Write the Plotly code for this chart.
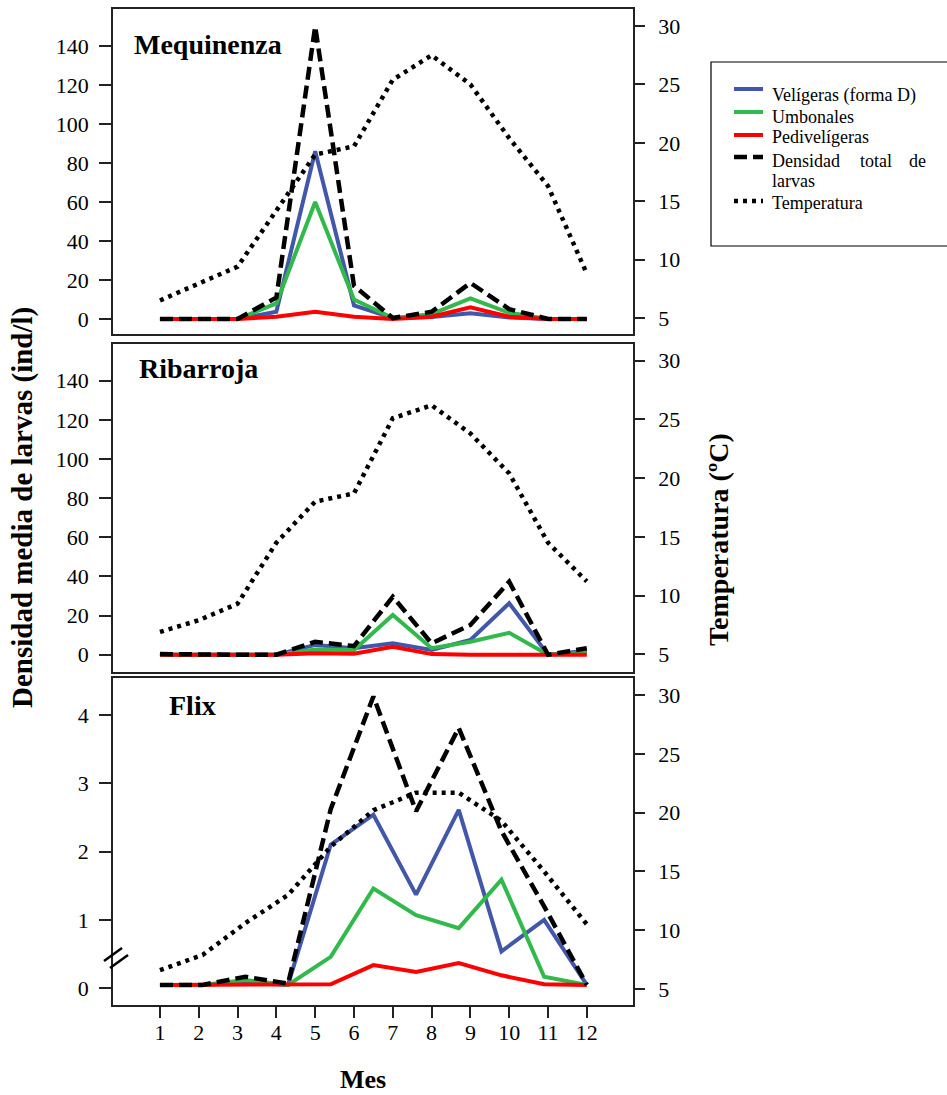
import plotly.graph_objects as go

# ---------------- data ----------------
months = [1, 2, 3, 4, 5, 6, 7, 8, 9, 10, 11, 12]
month_labels = ["1", "2", "3", "4", "5", "6", "7", "8", "9", "10", "11", "12"]

# Mequinenza
meq_temp = [6.5, 8.0, 9.4, 14.2, 19.0, 19.7, 25.4, 27.5, 25.0, 20.4, 16.3, 8.8]
meq_veli = [0, 0, 0, 3.7, 86, 7, 0.5, 1, 3, 0.8, 0, 0]
meq_umbo = [0, 0, 0, 8, 60, 10, 0.5, 2.5, 10.6, 3.2, 0, 0]
meq_pedi = [0, 0, 0, 1.2, 3.7, 1.2, 0, 1.2, 6, 1.2, 0, 0]
meq_total = [0, 0, 0, 11, 150, 17, 0.5, 3.7, 18.5, 5.1, 0, 0]

# Ribarroja
rib_temp = [6.9, 7.9, 9.3, 14.5, 18.0, 18.7, 25.1, 26.2, 23.8, 20.4, 14.5, 11.2]
rib_veli = [0, 0, 0, 0, 5, 3.3, 5.8, 2.4, 7.5, 26.3, 0, 2]
rib_umbo = [0, 0, 0, 0, 2.7, 2.4, 20.3, 3.3, 6.6, 11.2, 0, 1]
rib_pedi = [0, 0, 0, 0, 0.8, 0.5, 4.1, 0.3, 0, 0, 0, 0]
rib_total = [0.3, 0, 0, 0, 6.6, 4.4, 29.6, 5.8, 15.2, 37.3, 0, 3.3]

# Flix (11 sampling dates spread over the year)
flix_x = [1.0, 2.1, 3.2, 4.3, 5.4, 6.5, 7.6, 8.7, 9.8, 10.9, 12.0]
flix_temp = [6.6, 7.9, 10.6, 13.0, 17.1, 20.2, 21.7, 21.7, 19.3, 15.0, 10.5]
flix_veli = [0.05, 0.05, 0.08, 0.05, 2.1, 2.54, 1.37, 2.61, 0.54, 1.0, 0.05]
flix_umbo = [0.05, 0.05, 0.12, 0.05, 0.46, 1.46, 1.07, 0.88, 1.59, 0.17, 0.05]
flix_pedi = [0.05, 0.05, 0.06, 0.05, 0.06, 0.34, 0.24, 0.37, 0.19, 0.06, 0.05]
flix_total = [0.05, 0.05, 0.17, 0.07, 2.62, 4.27, 2.59, 3.81, 2.3, 1.2, 0.05]

panel_names = ["Mequinenza", "Ribarroja", "Flix"]
series_names = ["Velígeras (forma D)", "Umbonales", "Pedivelígeras",
                "Densidad total de larvas", "Temperatura"]
dens_ticks_big = [0, 20, 40, 60, 80, 100, 120, 140]
dens_ticks_small = [0, 1, 2, 3, 4]
temp_ticks = [5, 10, 15, 20, 25, 30]

# ---------------- styling / layout ----------------
W, H = 947, 1095
FONT = "Liberation Serif, Times New Roman, serif"
AX = "#222222"

def fx(p):
    return p / W

def fy(p):
    return 1 - p / H

x_dom = [fx(113), fx(633)]
y_doms = [[fy(334), fy(9)], [fy(672), fy(344)], [fy(1005), fy(678)]]
x_range = [-0.21, 13.19]
left_ranges = [[-7.69, 158.97], [-8.84, 158.75], [-0.244, 4.54]]
right_ranges = [[3.63, 31.46], [3.49, 31.42], [3.64, 31.45]]

styles = [
    dict(color="#4257A9", width=4),
    dict(color="#31B94B", width=4),
    dict(color="#FE0000", width=4),
    dict(color="black", width=4.5, dash="13px,6px"),
    dict(color="black", width=4.5, dash="4px,5px"),
]

panels = [
    (months, meq_veli, meq_umbo, meq_pedi, meq_total, months, meq_temp),
    (months, rib_veli, rib_umbo, rib_pedi, rib_total, months, rib_temp),
    (flix_x, flix_veli, flix_umbo, flix_pedi, flix_total, flix_x, flix_temp),
]

fig = go.Figure()
for i, (xd, v, u, p, t, xt, temp) in enumerate(panels):
    xa = "x" if i == 0 else f"x{i+1}"
    yl = "y" if i == 0 else f"y{2*i+1}"
    yr = f"y{2*i+2}"
    for k, ys in enumerate([v, u, p, t]):
        fig.add_trace(go.Scatter(x=xd, y=ys, mode="lines", line=styles[k],
                                 name=series_names[k], showlegend=False,
                                 xaxis=xa, yaxis=yl, hoverinfo="skip"))
    fig.add_trace(go.Scatter(x=xt, y=temp, mode="lines", line=styles[4],
                             name=series_names[4], showlegend=False,
                             xaxis=xa, yaxis=yr, hoverinfo="skip"))

layout = dict(
    width=W, height=H, margin=dict(l=0, r=0, t=0, b=0),
    paper_bgcolor="white", plot_bgcolor="white",
    font=dict(family=FONT, color="black"),
    showlegend=False,
)

for i in range(3):
    xa = "xaxis" if i == 0 else f"xaxis{i+1}"
    yl = "yaxis" if i == 0 else f"yaxis{2*i+1}"
    yr = f"yaxis{2*i+2}"
    yl_id = "y" if i == 0 else f"y{2*i+1}"
    x_id = "x" if i == 0 else f"x{i+1}"
    bottom = (i == 2)
    layout[xa] = dict(
        domain=x_dom, anchor=yl_id, range=x_range,
        tickvals=months, ticktext=month_labels,
        showticklabels=bottom, ticks="outside" if bottom else "",
        ticklen=11, tickwidth=2, tickcolor=AX,
        tickfont=dict(family=FONT, size=22, color="black"),
        ticklabelstandoff=-4,
        showline=True, mirror=True, linecolor=AX, linewidth=1.5,
        showgrid=False, zeroline=False,
    )
    layout[yl] = dict(
        domain=y_doms[i], anchor=x_id, range=left_ranges[i],
        tickvals=dens_ticks_small if bottom else dens_ticks_big,
        ticks="outside", ticklen=12, tickwidth=2, tickcolor=AX,
        tickfont=dict(family=FONT, size=22, color="black"),
        ticklabelstandoff=6,
        showline=True, linecolor=AX, linewidth=1.5,
        showgrid=False, zeroline=False,
    )
    layout[yr] = dict(
        domain=y_doms[i], anchor=x_id, overlaying=yl_id, side="right",
        range=right_ranges[i], tickvals=temp_ticks,
        ticks="outside", ticklen=10, tickwidth=2, tickcolor=AX,
        tickfont=dict(family=FONT, size=22, color="black"),
        ticklabelstandoff=9,
        showline=True, linecolor=AX, linewidth=1.5,
        showgrid=False, zeroline=False,
    )

fig.update_layout(**layout)

# panel titles
title_pos = [(132, 45), (137, 368), (167, 705)]
for name, (px, py) in zip(panel_names, title_pos):
    fig.add_annotation(text=f"<b>{name}</b>", x=fx(px), y=fy(py), xref="paper", yref="paper",
                       xanchor="left", yanchor="middle", showarrow=False,
                       font=dict(family=FONT, size=28, color="black"))

# axis titles
fig.add_annotation(text="<b>Densidad media de larvas (ind/l)</b>", x=fx(22), y=fy(508),
                   xref="paper", yref="paper", textangle=-90, showarrow=False,
                   xanchor="center", yanchor="middle",
                   font=dict(family=FONT, size=29, color="black"))
fig.add_annotation(text="<b>Temperatura (ºC)</b>", x=fx(718), y=fy(540),
                   xref="paper", yref="paper", textangle=-90, showarrow=False,
                   xanchor="center", yanchor="middle",
                   font=dict(family=FONT, size=28, color="black"))
fig.add_annotation(text="<b>Mes</b>", x=fx(363), y=fy(1079),
                   xref="paper", yref="paper", showarrow=False,
                   xanchor="center", yanchor="middle",
                   font=dict(family=FONT, size=26, color="black"))

# legend (drawn manually to match the boxed key)
fig.add_shape(type="rect", xref="paper", yref="paper",
              x0=fx(711), x1=fx(960), y0=fy(246), y1=fy(62),
              line=dict(color="black", width=1.2), fillcolor="rgba(0,0,0,0)")
sample_y = [89, 112, 135, 157, 201]
for k, sy in enumerate(sample_y):
    st = styles[k]
    fig.add_shape(type="line", xref="paper", yref="paper",
                  x0=fx(734), x1=fx(763), y0=fy(sy), y1=fy(sy),
                  line=dict(color=st["color"], width=st["width"],
                            dash=st.get("dash", "solid")))
legend_words = [
    ("Velígeras (forma D)", 770, 96),
    ("Umbonales", 770, 117),
    ("Pedivelígeras", 770, 137),
    ("Densidad", 770, 161),
    ("total", 858, 161),
    ("de", 907, 161),
    ("larvas", 770, 181),
    ("Temperatura", 770, 203),
]
for txt, px, py in legend_words:
    fig.add_annotation(text=txt, x=fx(px), y=fy(py), xref="paper", yref="paper",
                       xanchor="left", yanchor="middle", showarrow=False,
                       font=dict(family=FONT, size=18, color="black"))

# axis break marks on the Flix density axis
for (a, b, c, d) in [(104, 961, 122, 948), (110, 968, 128, 955)]:
    fig.add_shape(type="line", xref="paper", yref="paper",
                  x0=fx(a), y0=fy(b), x1=fx(c), y1=fy(d),
                  line=dict(color="black", width=2.5))

fig.write_html("out.html")
